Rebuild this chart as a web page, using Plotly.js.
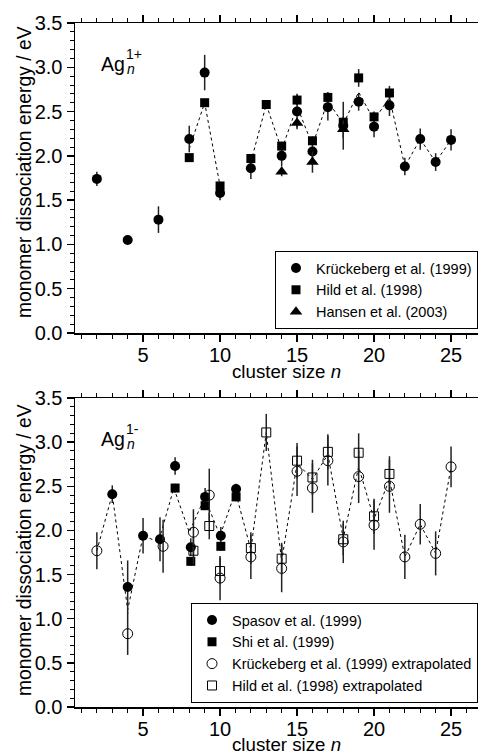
<!DOCTYPE html>
<html><head><meta charset="utf-8">
<script src="https://cdn.plot.ly/plotly-3.0.1.min.js"></script>
<style>html,body{margin:0;padding:0;background:#fff;overflow:hidden}</style>
</head><body><div id="chart" style="width:478px;height:753px"></div>
<script>
// ---------- Ag_n (1+) cations ----------
var kruckN   = [2, 4, 6, 8, 9, 10, 12, 14, 15, 16, 17, 18, 19, 20, 21, 22, 23, 24, 25];
var kruckE   = [1.74, 1.05, 1.28, 2.19, 2.94, 1.58, 1.86, 2.00, 2.50, 2.05, 2.55, 2.34, 2.61, 2.33, 2.57, 1.88, 2.19, 1.93, 2.18];
var kruckErr = [0.08, 0.02, 0.15, 0.15, 0.20, 0.08, 0.12, 0.12, 0.20, 0.15, 0.15, 0.27, 0.10, 0.12, 0.12, 0.10, 0.12, 0.10, 0.12];

var hildN    = [8, 9, 10, 12, 13, 14, 15, 16, 17, 18, 19, 20, 21];
var hildE    = [1.98, 2.60, 1.66, 1.97, 2.58, 2.11, 2.63, 2.17, 2.66, 2.38, 2.88, 2.44, 2.71];
var hildErr  = [0.04, 0.04, 0.04, 0.05, 0.04, 0.05, 0.06, 0.05, 0.06, 0.06, 0.10, 0.06, 0.08];

var hansenN   = [14, 15, 16, 18];
var hansenE   = [1.82, 2.37, 1.93, 2.30];
var hansenErr = [0.05, 0.05, 0.12, 0.10];

var guideTopN = [8, 9, 10, 11, 12, 13, 14, 15, 16, 17, 18, 19, 20, 21, 22, 23, 24, 25];
var guideTopE = [2.08, 2.60, 1.66, null, 1.93, 2.58, 2.07, 2.56, 2.12, 2.62, 2.36, 2.72, 2.40, 2.66, 1.88, 2.19, 1.93, 2.18];

// ---------- Ag_n (1-) anions ----------
var spasovN   = [3, 4, 5, 6.1, 7.08, 8.1, 9.03, 10.05, 11.04];
var spasovE   = [2.41, 1.36, 1.94, 1.90, 2.73, 1.81, 2.38, 1.94, 2.47];
var spasovErr = [0.10, 0.30, 0.20, 0.25, 0.10, 0.10, 0.10, 0.10, 0.06];

var shiN   = [7.08, 8.1, 9.03, 10.05, 11.04];
var shiE   = [2.48, 1.65, 2.28, 1.82, 2.38];
var shiErr = [0.05, 0.05, 0.05, 0.05, 0.05];

var kruckExtN   = [2, 4, 6.3, 8.27, 9.3, 10, 12, 14, 15, 16, 17, 18, 19, 20, 21, 22, 23, 24, 25];
var kruckExtE   = [1.77, 0.83, 1.82, 1.98, 2.40, 1.46, 1.70, 1.57, 2.67, 2.48, 2.79, 1.87, 2.61, 2.06, 2.50, 1.70, 2.07, 1.74, 2.72];
var kruckExtErr = [0.21, 0.24, 0.30, 0.26, 0.30, 0.25, 0.25, 0.27, 0.28, 0.28, 0.28, 0.24, 0.30, 0.28, 0.30, 0.25, 0.23, 0.25, 0.23];

var hildExtN   = [8.27, 9.3, 10, 12, 13, 14, 15, 16, 17, 18, 19, 20, 21];
var hildExtE   = [1.77, 2.05, 1.54, 1.80, 3.11, 1.68, 2.79, 2.60, 2.89, 1.90, 2.88, 2.16, 2.64];
var hildExtErr = [0.15, 0.15, 0.15, 0.18, 0.21, 0.18, 0.20, 0.20, 0.20, 0.18, 0.22, 0.20, 0.20];

var guideBotN = [2, 3, 4, 5, 6, 7, 8, 9, 10, 11, 12, 13, 14, 15, 16, 17, 18, 19, 20, 21, 22, 23, 24, 25];
var guideBotE = [1.77, 2.41, 1.10, 1.94, 1.87, 2.48, 1.98, 2.37, 1.94, 2.44, 1.78, 3.11, 1.65, 2.76, 2.58, 2.86, 1.91, 2.72, 2.13, 2.58, 1.70, 2.07, 1.74, 2.72];

var yTicks = [0, 0.5, 1.0, 1.5, 2.0, 2.5, 3.0, 3.5];
var xTicks = [5, 10, 15, 20, 25];

var legendTop = ['Krückeberg et al. (1999)', 'Hild et al. (1998)', 'Hansen et al. (2003)'];
var legendBot = ['Spasov et al. (1999)', 'Shi et al. (1999)', 'Krückeberg et al. (1999) extrapolated', 'Hild et al. (1998) extrapolated'];

var xTitle = 'cluster size <i>n</i>';
var yTitle = 'monomer dissociation energy / eV';

// ---------- helpers ----------
var W = 478, H = 753, L = 75;
function py(p) { return (H - p) / H; }
function px(p) { return (p - L) / (W - L); }
var SANS = 'Liberation Sans, Arial, sans-serif';

function errY(arr) {
  return {type: 'data', array: arr, visible: true, color: '#222', thickness: 1.5, width: 0};
}
function guide(xs, ys, xa, ya) {
  return {x: xs, y: ys, xaxis: xa, yaxis: ya, mode: 'lines', showlegend: false,
          connectgaps: false, line: {color: '#000', width: 1, dash: '3px,3px'}, hoverinfo: 'skip'};
}
function pts(xs, ys, err, name, sym, size, xa, ya, leg) {
  var open = sym.indexOf('open') >= 0;
  return {x: xs, y: ys, xaxis: xa, yaxis: ya, name: name, legend: leg, mode: 'markers',
          error_y: errY(err),
          marker: {symbol: sym, size: size, color: '#000', line: {color: '#000', width: open ? 1 : 0}}};
}

var traces = [
  guide(guideTopN, guideTopE, 'x', 'y'),
  pts(kruckN, kruckE, kruckErr, legendTop[0], 'circle', 10, 'x', 'y', 'legend'),
  pts(hildN, hildE, hildErr, legendTop[1], 'square', 9, 'x', 'y', 'legend'),
  pts(hansenN, hansenE, hansenErr, legendTop[2], 'triangle-up', 11, 'x', 'y', 'legend'),
  guide(guideBotN, guideBotE, 'x2', 'y2'),
  pts(spasovN, spasovE, spasovErr, legendBot[0], 'circle', 10, 'x2', 'y2', 'legend2'),
  pts(shiN, shiE, shiErr, legendBot[1], 'square', 9, 'x2', 'y2', 'legend2'),
  pts(kruckExtN, kruckExtE, kruckExtErr, legendBot[2], 'circle-open', 10, 'x2', 'y2', 'legend2'),
  pts(hildExtN, hildExtE, hildExtErr, legendBot[3], 'square-open', 9, 'x2', 'y2', 'legend2')
];

function xAxis(anchor) {
  return {
    anchor: anchor, domain: [0, 1], range: [0.58, 26.75],
    tickvals: xTicks, ticktext: xTicks.map(String),
    ticks: 'outside', ticklen: 7, tickwidth: 1.5, tickcolor: '#000', ticklabelstandoff: -4,
    minor: {dtick: 1, tick0: 0, ticks: 'outside', ticklen: 4, tickwidth: 1, tickcolor: '#000', showgrid: false},
    showline: true, linecolor: '#000', linewidth: 1.5, mirror: 'ticks',
    showgrid: false, zeroline: false,
    tickfont: {family: SANS, size: 20, color: '#000'}
  };
}
function yAxis(anchor, dom) {
  return {
    anchor: anchor, domain: dom, range: [0, 3.5],
    tickvals: yTicks, ticktext: yTicks.map(function (v) { return v.toFixed(1); }),
    ticks: 'outside', ticklen: 7, tickwidth: 1.5, tickcolor: '#000',
    minor: {dtick: 0.1, tick0: 0, ticks: 'outside', ticklen: 4, tickwidth: 1, tickcolor: '#000', showgrid: false},
    showline: true, linecolor: '#000', linewidth: 1.5, mirror: false,
    showgrid: false, zeroline: false,
    tickfont: {family: SANS, size: 20, color: '#000'}
  };
}

function note(text, x, y, size, angle) {
  return {text: text, x: x, y: y, xref: 'paper', yref: 'paper', xanchor: 'center', yanchor: 'middle',
          textangle: angle || 0, showarrow: false, font: {family: SANS, size: size, color: '#000'}};
}
function agLabel(plotTop, sup) {
  return [
    {text: 'Ag', x: px(99), y: py(plotTop + 41), xref: 'paper', yref: 'paper', xanchor: 'left', yanchor: 'middle',
     showarrow: false, font: {family: SANS, size: 19.5, color: '#000'}},
    {text: sup, x: px(124), y: py(plotTop + 31), xref: 'paper', yref: 'paper', xanchor: 'left', yanchor: 'middle',
     showarrow: false, font: {family: SANS, size: 14, color: '#000'}},
    {text: '<i>n</i>', x: px(125), y: py(plotTop + 46), xref: 'paper', yref: 'paper', xanchor: 'left', yanchor: 'middle',
     showarrow: false, font: {family: SANS, size: 14, color: '#000'}}
  ];
}

var layout = {
  width: W, height: H,
  margin: {l: L, r: 0, t: 0, b: 0, pad: 0},
  paper_bgcolor: '#fff', plot_bgcolor: '#fff',
  showlegend: true,
  xaxis: xAxis('y'),
  yaxis: yAxis('x', [py(333), py(23)]),
  xaxis2: xAxis('y2'),
  yaxis2: yAxis('x2', [py(707), py(398)]),
  legend: {x: 1, xanchor: 'right', y: py(329), yanchor: 'bottom', xref: 'paper', yref: 'paper',
           bordercolor: '#000', borderwidth: 1, bgcolor: '#fff', itemwidth: 30,
           font: {family: SANS, size: 14.5, color: '#000'}},
  legend2: {x: 1, xanchor: 'right', y: py(703), yanchor: 'bottom', xref: 'paper', yref: 'paper',
            bordercolor: '#000', borderwidth: 1, bgcolor: '#fff', itemwidth: 30,
            font: {family: SANS, size: 14.5, color: '#000'}},
  annotations: agLabel(23, '1+').concat(agLabel(398, '1-')).concat([
    note(xTitle, px(286), py(371), 18.7),
    note(xTitle, px(286), py(744), 18.7),
    note(yTitle, px(24), py(172), 19.3, -90),
    note(yTitle, px(24), py(550), 19.3, -90)
  ])
};

Plotly.newPlot('chart', traces, layout, {staticPlot: true, displayModeBar: false});
</script></body></html>
